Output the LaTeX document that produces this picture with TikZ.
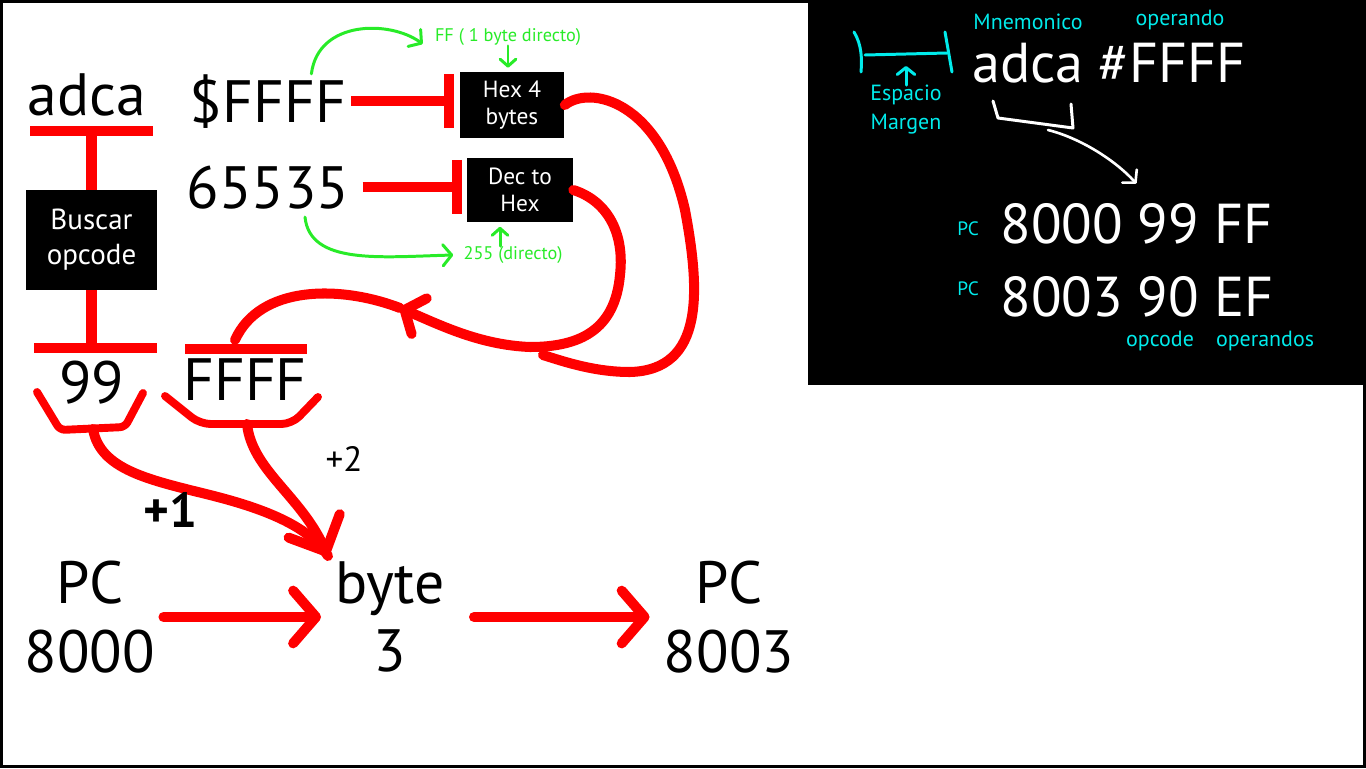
\documentclass[tikz,border=0pt]{standalone}
\usepackage{fontspec}
\setmainfont{PT Sans}
\usetikzlibrary{arrows.meta}

\definecolor{rojo}{RGB}{255,0,0}
\definecolor{verde}{RGB}{40,235,40}
\definecolor{cian}{RGB}{0,235,235}

\newcommand{\tgrande}{\fontsize{34}{39}\selectfont}
\newcommand{\tpanel}{\fontsize{32}{36}\selectfont}
\newcommand{\tcaja}{\fontsize{13.3}{15.5}\selectfont}
\newcommand{\tbuscar}{\fontsize{16.5}{20}\selectfont}
\newcommand{\tnota}{\fontsize{10.4}{12}\selectfont}
\newcommand{\tcian}{\fontsize{12.5}{16.5}\selectfont}

\begin{document}
\begin{tikzpicture}[x=0.02cm,y=-0.02cm,inner sep=0pt,
    barra/.style={draw=rojo,line width=5.7pt},
    curva/.style={draw=rojo,line width=5.7pt,line cap=round},
    flecha/.style={curva,-{Straight Barb[length=13pt,width=30pt,round]}},
    caja/.style={fill=black,text=white,align=center},
    verdeflecha/.style={draw=verde,line width=1.7pt,line cap=round,-{Straight Barb[length=5pt,width=12pt,round]}},
    verdecorta/.style={draw=verde,line width=1.7pt,line cap=round,-{Straight Barb[length=4pt,width=9pt,round]}},
    cianlinea/.style={draw=cian,line width=1.7pt,line cap=round}]
  \useasboundingbox (0,0) rectangle (1366,768);
  % panel negro
  \fill[black] (808,0) rectangle (1366,385);
  \draw[line width=1.7pt] (1.5,1.5) rectangle (1364.5,766.5);

  % adca -> buscar opcode -> 99
  \node[anchor=base,font=\tgrande] (adca) at (87,115) {adca};
  \node[caja,font=\tbuscar,minimum width=2.62cm,minimum height=2cm] (buscar) at (91.5,240) {Buscar\\opcode};
  \coordinate (l1a) at (30,131); \coordinate (l1b) at (153,131);
  \draw[barra] (l1a) -- (l1b);
  \draw[barra] (buscar.north) -- (buscar.north |- l1a);
  \coordinate (l2a) at (34,348); \coordinate (l2b) at (157,348);
  \draw[barra] (l2a) -- (l2b);
  \draw[barra] (buscar.south) -- (buscar.south |- l2a);
  \node[anchor=base,font=\tgrande] (n99) at (92,403) {99};

  % operando
  \node[anchor=base,font=\tgrande] (hexa) at (268,122) {\$FFFF};
  \node[anchor=base,font=\tgrande] (deci) at (268,208) {65535};
  \node[caja,font=\tcaja,minimum width=2.1cm,minimum height=1.32cm] (cajahex) at (512,105) {Hex 4\\bytes};
  \node[caja,font=\tcaja,minimum width=2.12cm,minimum height=1.3cm] (cajadec) at (520,190) {Dec to\\Hex};
  \draw[barra,-{Bar[width=31pt]}] ([xshift=0.1cm]hexa.east) -- ([xshift=-0.1cm]hexa.east -| cajahex.west);
  \draw[barra,-{Bar[width=31pt]}] ([xshift=0.26cm]deci.east) -- ([xshift=-0.1cm]deci.east -| cajadec.west);
  \node[anchor=base,font=\tgrande] (nFFFF) at (245,400) {FFFF};
  \coordinate (l3a) at (185,349); \coordinate (l3b) at (307,349);
  \draw[barra] (l3a) -- (l3b);

  % vueltas hacia FFFF
  \coordinate (union) at (543,355);
  \coordinate (giro) at (400,308);
  \coordinate (sube) at (235,340);
  \draw[curva] (cajahex.east) .. controls (590,85) and (660,100) .. (685,210)
    .. controls (700,290) and (705,370) .. (630,372) .. controls (595,372) and (565,362) .. (union);
  \draw[curva,-{Straight Barb[length=9pt,width=22pt,round]}] (cajadec.east) .. controls (605,200) and (625,230) .. (620,275)
    .. controls (615,330) and (580,347) .. (530,347) .. controls (480,345) and (440,325) .. (giro);
  \draw[curva] (giro) .. controls (340,285) and (260,285) .. (sube);

  % llaves bajo 99 y FFFF
  \draw[curva,line width=4.5pt,rounded corners=3pt] (37,392) -- (60,430) -- (125,427) -- (143,393);
  \draw[curva,line width=4.5pt,rounded corners=6pt] (165,396) -- (200,424) -- (292,424) -- (318,397);
  \coordinate (s99) at (93,429);
  \coordinate (sFFFF) at (247,424);

  % PC + byte
  \node[align=center,font=\tgrande] (pcA) at (90,617) {PC\\8000};
  \node[align=center,font=\tgrande] (byte) at (390,617) {byte\\3};
  \node[align=center,font=\tgrande] (pcB) at (729,617) {PC\\8003};
  \coordinate (llega) at (328,556);
  \draw[curva] (s99) .. controls (100,470) and (150,480) .. (210,495) .. controls (270,510) and (310,528) .. (llega);
  \draw[curva,-{Straight Barb[length=16pt,width=32pt,round]}] (sFFFF) .. controls (252,470) and (300,495) .. (llega);
  \draw[flecha] ([xshift=0.16cm]pcA.east) -- ([xshift=-0.28cm]byte.west);
  \draw[flecha] ([xshift=0.58cm]byte.east) -- ([xshift=-0.28cm]pcB.west);
  \node[font=\fontsize{28}{30}\selectfont\bfseries] (mas1) at (170,510) {+1};
  \node[font=\fontsize{20}{22}\selectfont] (mas2) at (344,459) {+2};

  % notas verdes
  \node[text=verde,font=\tnota] (notaff) at (508,37) {FF ( 1 byte directo)};
  \node[text=verde,font=\tnota] (nota255) at (513,255) {255 (directo)};
  \draw[verdeflecha] ([xshift=-0.7cm]hexa.north east) .. controls (318,20) and (390,20) .. ([xshift=-0.24cm,yshift=-0.14cm]notaff.west);
  \draw[verdecorta] (notaff.south) -- ([yshift=0.08cm]notaff.south |- cajahex.north);
  \draw[verdeflecha] ([xshift=0.74cm,yshift=-0.16cm]deci.south) .. controls (310,265) and (380,257) .. ([xshift=-0.2cm]nota255.west);
  \draw[verdecorta] ([xshift=-0.26cm]nota255.north) -- ([xshift=-0.26cm,yshift=-0.08cm]nota255.north |- cajadec.south);

  % panel: mnemonico y operando
  \node[text=cian,font=\tcian] (mnemo) at (1028,22) {Mnemonico};
  \node[text=cian,font=\tcian] (opera) at (1180,20) {operando};
  \node[anchor=base,text=white,font=\tpanel] (instr) at (1109,82) {adca \#FFFF};
  \draw[cianlinea] (854,32) .. controls (862,45) and (862,60) .. (861,72);
  \draw[cianlinea] (865,55) -- (947,53);
  \draw[cianlinea] (945,32) -- (952,72);
  \coordinate (marca) at (903,66);
  \node[text=cian,font=\tcian,align=center] (espacio) at (906,110) {Espacio\\Margen};
  \draw[cianlinea,-{Straight Barb[length=4pt,width=10pt,round]}] (espacio.north) -- (espacio.north |- marca);
  \coordinate (llave) at (1048,130);
  \draw[white,line width=1.7pt,line join=round,line cap=round] (993,101) -- (998,118) -- (1073,128) -- (1071,104);
  \node[text=cian,font=\fontsize{11}{13}\selectfont] (pc1) at (968,229) {PC};
  \node[anchor=base west,text=white,font=\tpanel] (fila1) at (1000,243) {8000 99 FF};
  \node[text=cian,font=\fontsize{11}{13}\selectfont] (pc2) at (968,289) {PC};
  \node[anchor=base west,text=white,font=\tpanel] (fila2) at (1000,316) {8003 90 EF};
  \draw[white,line width=1.5pt,line cap=round,-{Straight Barb[length=5pt,width=11pt,round]}] (llave) .. controls (1080,138) and (1115,160) .. ([yshift=0.38cm]fila1.north);
  \node[text=cian,font=\tcian] (opc) at (1160,341) {opcode};
  \node[text=cian,font=\tcian] (opers) at (1265,341) {operandos};
\end{tikzpicture}
\end{document}
